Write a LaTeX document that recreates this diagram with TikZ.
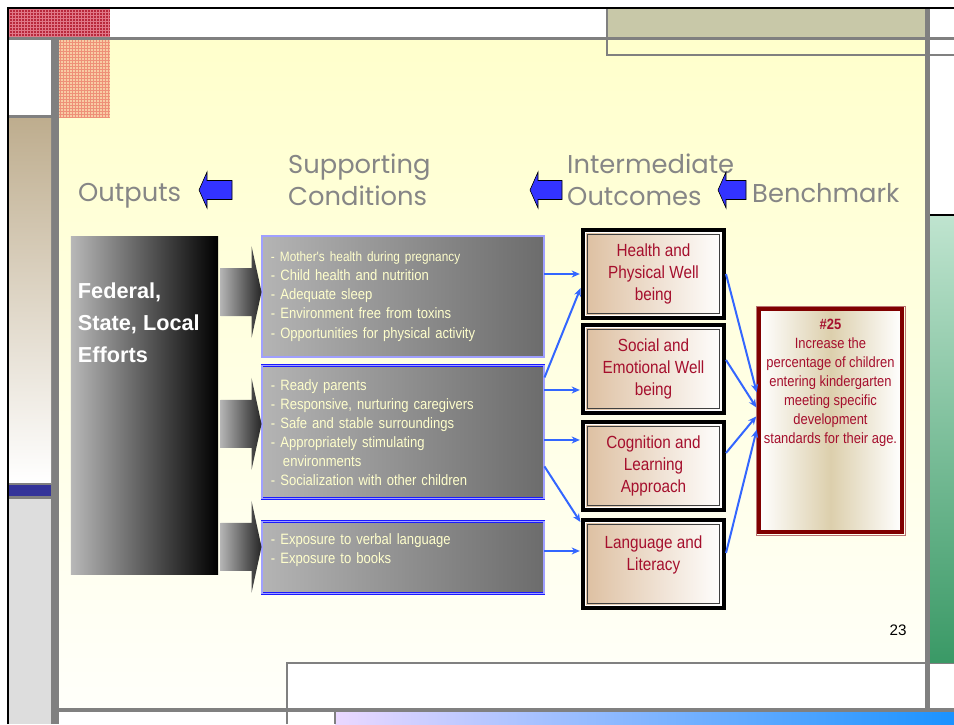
\documentclass[tikz,border=0pt]{standalone}
\usepackage{fontspec}
\setmainfont{Liberation Sans}
\newfontfamily\headfont{Poppins}
\newfontfamily\narrowfont[FakeStretch=0.87]{Liberation Sans}
\usetikzlibrary{positioning,calc,arrows.meta}

\definecolor{bgtop}{HTML}{FFFFCC}
\definecolor{bgbot}{HTML}{FFFFFA}
\definecolor{framegrey}{HTML}{808080}
\definecolor{headgrey}{HTML}{868686}
\definecolor{arrowblue}{HTML}{3333FF}
\definecolor{linkblue}{HTML}{3366FF}
\definecolor{boxblue}{HTML}{1A1AFF}
\definecolor{boxgap}{HTML}{A0A0FF}
\definecolor{greyL}{HTML}{B4B4B4}
\definecolor{greyR}{HTML}{6C6C6C}
\definecolor{cream}{HTML}{FFFFCC}
\definecolor{tanL}{HTML}{DDBFA0}
\definecolor{crimson}{HTML}{A50F2D}
\definecolor{benchred}{HTML}{800000}
\definecolor{benchtan}{HTML}{DCCFAC}
\definecolor{checkred}{HTML}{B8283C}
\definecolor{checkline}{HTML}{E07888}
\definecolor{checkpink}{HTML}{F8CCA4}
\definecolor{checkpinkline}{HTML}{EE9078}
\definecolor{bandtan}{HTML}{C8C8A8}
\definecolor{striptan}{HTML}{BEAD8E}
\definecolor{stripblue}{HTML}{333399}
\definecolor{stripgrey}{HTML}{DDDDDD}
\definecolor{greentop}{HTML}{BFE4CF}
\definecolor{greenbot}{HTML}{3A9966}
\definecolor{lavender}{HTML}{EAD8FF}
\definecolor{skyblue}{HTML}{1A92FF}

\tikzset{
  hd/.style={font=\headfont\fontsize{22}{27.2}\selectfont, text=headgrey, align=left, inner sep=0pt, anchor=north west},
  gbox/.style={draw=boxblue, double=boxgap, line width=0.8pt, double distance=0.9pt, left color=greyL, right color=greyR, minimum width=8.46cm, text width=7.92cm, inner xsep=0.27cm, align=left, text=cream, font=\narrowfont\fontsize{12.8}{16.3}\selectfont},
  obox/.style={draw=black, line width=3.4pt, left color=tanL, right color=white, minimum width=4.23cm, minimum height=2.64cm, align=center, text=crimson, font=\narrowfont\fontsize{15}{18.7}\selectfont},
  bbox/.style={draw=benchred, line width=3.4pt, left color=white, right color=white, middle color=benchtan, minimum width=4.29cm, minimum height=6.69cm, align=center, text=crimson, font=\narrowfont\fontsize{12.7}{16.2}\selectfont},
  ebox/.style={left color=greyL!95!white, right color=black, minimum width=4.41cm, minimum height=10.11cm},
  link/.style={draw=linkblue, line width=1.7pt, -{Stealth[length=7pt,width=6pt]}, shorten >=1pt},
  backarrow/.pic={\draw[fill=arrowblue, line width=0.5pt] (0,0) -- (8,-18) -- (8,-9.5) -- (#1,-9.5) -- (#1,9.5) -- (8,9.5) -- (8,18) -- cycle;},
  pushhead/.pic={\shade[left color=greyL, right color=black!85] (-41,-24) -- (-10,-24) -- (-10,-46) -- (0,0) -- (-10,46) -- (-10,24) -- (-41,24) -- cycle;}
}

\begin{document}
\begin{tikzpicture}[x=0.03cm, y=-0.03cm]
\useasboundingbox (0,0) rectangle (954,724);
\fill[white] (0,0) rectangle (954,724);
\shade[top color=bgtop, bottom color=bgbot] (59,40) rectangle (925,708);
\fill[white] (287,663) rectangle (925,708);
\draw[framegrey, line width=0.9pt] (287,724) -- (287,663) -- (925,663);
\fill[checkred] (9,9) rectangle (110,37);
\draw[checkline, step=0.09cm, line width=0.25pt] (9,9) grid (110,37);
\fill[checkpink] (59,40) rectangle (110,118);
\draw[checkpinkline, step=0.09cm, line width=0.25pt] (59,40) grid (110,118);
\fill[bandtan] (607,9) rectangle (925,37);
\draw[framegrey, line width=0.9pt] (607,9) -- (607,55) -- (954,55);
\fill[framegrey] (9,37) rectangle (954,40);
\fill[framegrey] (51,40) rectangle (59,724);
\fill[framegrey] (925,9) rectangle (930,724);
\fill[framegrey] (9,115) rectangle (51,118);
\shade[top color=striptan, bottom color=white] (9,118) rectangle (51,483);
\fill[framegrey] (9,483) rectangle (51,485);
\fill[stripblue] (9,485) rectangle (51,496);
\fill[framegrey] (9,496) rectangle (51,499);
\fill[stripgrey] (9,499) rectangle (51,724);
\draw[black, line width=1.7pt] (930,215) -- (954,215);
\shade[top color=greentop, bottom color=greenbot] (930,216) rectangle (954,662);
\draw[framegrey, line width=0.6pt] (930,663) -- (954,663);
\fill[framegrey] (59,708) rectangle (954,712);
\shade[left color=lavender, right color=skyblue] (335,712) rectangle (954,724);
\draw[framegrey, line width=0.9pt] (335,712) -- (335,724);
\draw[black, line width=1.7pt] (8,724) -- (8,8) -- (954,8);

\node[hd] (outputs) at (78,183) {Outputs};
\node[hd] (supporting) at (288,154) {Supporting\\Conditions};
\node[hd] (intermediate) at (567,154) {Intermediate\\Outcomes};
\node[hd] (benchmark) at (752,183) {Benchmark};
\pic at (199,190) {backarrow=33};
\pic at (530,190) {backarrow=32};
\pic at (718,190) {backarrow=28};

\node[ebox] (efforts) at (144.5,405.5) {};
\node[anchor=north west, inner sep=0pt, align=left, text=white, font=\bfseries\fontsize{18.5}{27.2}\selectfont] (effortstxt) at ($(efforts.north west)+(7,46)$) {Federal,\\State, Local\\Efforts};

\node[gbox, minimum height=3.63cm] (g1) at (403,296.5) {{\fontsize{11.6}{16.3}\selectfont- Mother's health during pregnancy}\\- Child health and nutrition\\- Adequate sleep\\- Environment free from toxins\\- Opportunities for physical activity};
\node[gbox, minimum height=3.99cm, below=0.24cm of g1] (g2) {- Ready parents\\- Responsive, nurturing caregivers\\- Safe and stable surroundings\\- Appropriately stimulating\\\hspace*{0.36cm}environments\\- Socialization with other children};
\node[gbox, minimum height=2.16cm, below=0.66cm of g2] (g3) {- Exposure to verbal language\\- Exposure to books\\\mbox{}};
\pic at ($(g1.west)+(0,-4.5)$) {pushhead};
\pic at ($(g2.west)+(0,-8.5)$) {pushhead};
\pic at ($(g3.west)+(0,-11)$) {pushhead};

\node[obox] (hA) at (653.5,274) {Health and\\Physical Well\\being};
\node[obox, below=0.09cm of hA] (hB) {Social and\\Emotional Well\\being};
\node[obox, below=0.15cm of hB] (hC) {Cognition and\\Learning\\Approach};
\node[obox, below=0.18cm of hC] (hD) {Language and\\Literacy\\\mbox{}};
\foreach \n in {hA,hB,hC,hD} {
  \draw[white, line width=1pt] ($(\n.north west)+(4.8,4.8)$) rectangle ($(\n.south east)+(-4.8,-4.8)$);
  \draw[black!75, line width=0.6pt] ($(\n.north west)+(6.2,6.2)$) rectangle ($(\n.south east)+(-6.2,-6.2)$);
}

\node[bbox] (bench) at (830.5,420.5) {{\bfseries\#25}\\Increase the\\percentage of children\\entering kindergarten\\meeting specific\\development\\standards for their age.\\[1.8cm]\mbox{}};
\draw[benchred!55, line width=0.6pt] ($(bench.north west)+(-1,-1)$) rectangle ($(bench.south east)+(1,1)$);

\coordinate (inB) at ($(hB.west)+(0,21)$);
\coordinate (inC) at ($(hC.west)+(0,-26)$);
\coordinate (inD1) at ($(hD.west)+(0,-41)$);
\coordinate (inD2) at ($(hD.west)+(0,-13)$);
\draw[link] (hA.west -| g1.east) -- (hA.west);
\draw[link] ($(g2.north east)+(0,12)$) -- ($(hA.west)+(0,13)$);
\draw[link] (g2.east |- inB) -- (inB);
\draw[link] (g2.east |- inC) -- (inC);
\draw[link] ($(g2.south east)+(0,-33)$) -- (inD1);
\draw[link] (g3.east |- inD2) -- (inD2);
\draw[link] (hA.east) -- ($(bench.west)+(0,-27)$);
\draw[link] ($(hB.east)+(0,-9)$) -- ($(bench.west)+(0,-12)$);
\draw[link] ($(hC.east)+(0,-13)$) -- ($(bench.west)+(0,-5)$);
\draw[link] ($(hD.east)+(0,-11)$) -- ($(bench.west)+(0,8)$);

\node[font=\fontsize{13}{15}\selectfont] (pagenum) at (898,630) {23};
\end{tikzpicture}
\end{document}
